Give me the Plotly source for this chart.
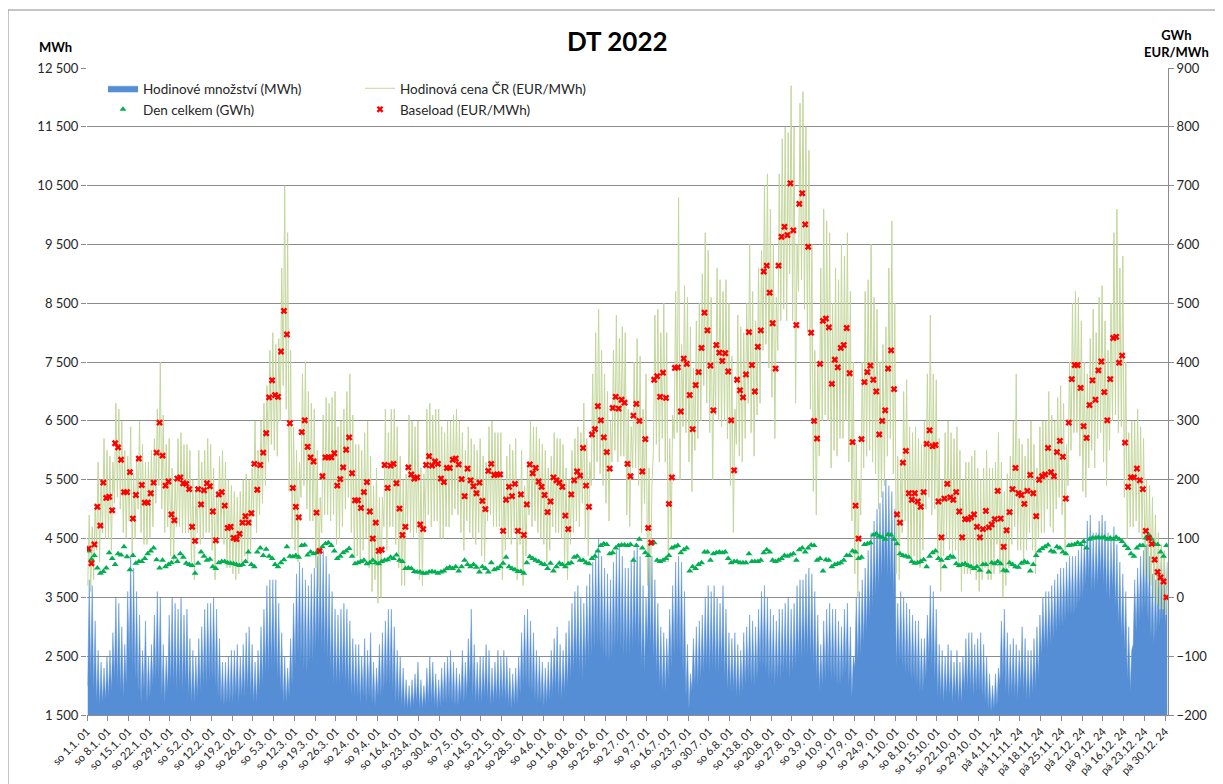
import numpy as np
import plotly.graph_objects as go

# ---------------- data ----------------
week_labels = [
    "so 1.1. 01", "so 8.1. 01", "so 15.1. 01", "so 22.1. 01", "so 29.1. 01", "so 5.2. 01",
    "so 12.2. 01", "so 19.2. 01", "so 26.2. 01", "so 5.3. 01", "so 12.3. 01", "so 19.3. 01",
    "so 26.3. 01", "so 2.4. 01", "so 9.4. 01", "so 16.4. 01", "so 23.4. 01", "so 30.4. 01",
    "so 7.5. 01", "so 14.5. 01", "so 21.5. 01", "so 28.5. 01", "so 4.6. 01", "so 11.6. 01",
    "so 18.6. 01", "so 25.6. 01", "so 2.7. 01", "so 9.7. 01", "so 16.7. 01", "so 23.7. 01",
    "so 30.7. 01", "so 6.8. 01", "so 13.8. 01", "so 20.8. 01", "so 27.8. 01", "so 3.9. 01",
    "so 10.9. 01", "so 17.9. 01", "so 24.9. 01", "so 1.10. 01", "so 8.10. 01", "so 15.10. 01",
    "so 22.10. 01", "so 29.10. 01", "pá 4.11. 24", "pá 11.11. 24", "pá 18.11. 24",
    "pá 25.11. 24", "pá 2.12. 24", "pá 9.12. 24", "pá 16.12. 24", "pá 23.12. 24", "pá 30.12. 24",
]

# Baseload (EUR/MWh), one value per day
baseload = [
    83, 58, 90, 154, 122, 195, 169, 171, 148, 262, 255, 234, 179, 179, 213, 134, 174, 236, 191, 161,
    161, 177, 195, 246, 297, 241, 190, 197, 141, 131, 202, 204, 194, 193, 184, 120, 96, 184, 158, 182,
    194, 189, 146, 97, 175, 179, 156, 118, 120, 101, 99, 108, 127, 138, 127, 143, 227, 183, 225, 246,
    279, 340, 369,
    344, 341, 418, 487, 447, 296, 186, 154, 136, 281, 301, 256, 238, 231, 144, 79, 206, 238, 238, 238,
    245, 190, 201, 221, 251, 272, 211, 165, 165, 152, 179, 196, 146, 100, 127, 79, 81, 225, 186, 224,
    227, 194, 151, 106, 120, 221, 209, 202, 204, 124, 116, 225, 240, 224, 231, 227, 202, 196, 220, 220,
    234, 236, 226, 201, 172, 219, 199, 189, 177, 195, 164, 150, 215, 227, 208, 209, 209, 113, 166, 188,
    172, 193, 113, 175, 106, 158, 226, 211, 220, 197, 188, 174, 145, 163, 204, 199, 195, 188, 139, 116,
    175, 199, 214, 207, 254, 190, 154, 277, 286, 325, 301, 272, 247, 219, 322, 341, 321, 336, 331, 227,
    206, 309,
    329, 300, 214, 269, 118, 93, 370, 376, 341, 382, 339, 159, 204, 390, 391, 316, 406, 397, 344, 286,
    361, 383, 424, 484, 454, 394, 318, 429, 416, 402, 415, 384, 301, 216, 370, 352, 340, 379, 451, 395,
    350, 426, 454, 554, 564, 518, 466, 389, 564, 613, 630, 616, 704, 624, 463, 669, 687, 634, 596, 450,
    300,
    270, 397, 470, 474, 459, 363, 404, 391, 424, 429, 458, 381, 264, 156, 100, 269, 366, 383, 394, 370,
    350, 277, 300, 318, 389, 420, 354, 141, 127, 229, 249, 177, 166, 177, 163, 154, 179, 261, 284, 257,
    259, 163, 102, 168, 193, 170, 166, 179, 146, 102, 133, 133, 136, 141, 120, 102, 116, 147, 119,
    124, 133, 181, 134, 86, 114, 145, 184, 220, 177, 174, 159, 181, 208, 177, 138, 200, 206, 209, 254,
    213, 206, 247, 266, 239, 168, 297, 371, 395, 395, 356, 291, 271, 327, 369, 336, 386, 401, 349, 301,
    371, 441, 443, 399, 411, 263, 188, 204, 204, 219, 199, 184, 113, 101, 91, 64, 43, 34, 27, 0,
]

# Den celkem (GWh), one value per day
den_celkem = [
    79, 65, 71, 50, 41, 44, 50, 76, 66, 56, 74, 72, 86, 69, 47, 71, 58, 61, 61, 66,
    74, 79, 84, 64, 50, 63, 52, 56, 59, 68, 61, 74, 68, 58, 56, 54, 41, 58, 77, 70,
    63, 65, 52, 49, 59, 61, 61, 59, 58, 57, 56, 54, 56, 61, 77, 56, 52, 77, 84, 71,
    82, 70, 66,
    56, 52, 59, 64, 86, 70, 69, 71, 68, 88, 89, 72, 77, 74, 76, 79, 86, 91, 93, 88,
    79, 66, 70, 76, 79, 83, 70, 57, 59, 61, 63, 57, 59, 63, 59, 57, 61, 63, 64, 68,
    66, 72, 63, 61, 49, 50, 49, 44, 43, 43, 41, 41, 43, 44, 43, 41, 43, 45, 49, 51,
    49, 52, 45, 52, 63, 56, 52, 56, 51, 43, 52, 49, 43, 59, 47, 49, 52, 58, 68, 52,
    49, 47, 44, 44, 41, 59, 69, 66, 63, 61, 57, 56, 49, 58, 45, 52, 58, 56, 52, 57,
    59, 68, 70, 63, 63, 59, 57, 66, 70, 79, 88, 91, 90, 74, 76, 84, 88, 89, 89, 88,
    90, 63,
    88, 99, 84, 76, 71, 91, 93, 63, 61, 63, 66, 71, 84, 86, 88, 76, 81, 84, 45, 52,
    49, 56, 59, 77, 77, 63, 74, 76, 77, 76, 77, 66, 59, 61, 61, 59, 59, 59, 74, 61,
    61, 61, 63, 76, 81, 77, 63, 61, 63, 66, 71, 70, 72, 74, 63, 81, 84, 77, 84, 89,
    88,
    63, 66, 45, 64, 63, 52, 56, 57, 59, 63, 71, 71, 79, 77, 66, 68, 90, 91, 93, 106,
    108, 104, 102, 99, 107, 106, 99, 91, 74, 71, 70, 68, 61, 58, 59, 61, 64, 52, 70, 76,
    79, 66, 63, 52, 66, 70, 68, 57, 54, 56, 57, 54, 52, 49, 52, 46, 56, 56, 43,
    59, 57, 61, 57, 46, 45, 59, 56, 52, 51, 58, 61, 59, 45, 56, 71, 79, 83, 86, 89,
    79, 77, 86, 84, 77, 74, 88, 89, 90, 93, 90, 95, 84, 99, 101, 101, 102, 101, 102, 99,
    101, 99, 102, 99, 95, 88, 83, 74, 70, 84, 88, 88, 101, 106, 99, 90, 90, 77, 70, 88,
]

# Hourly quantity (MWh): daily peak-hour and night-hour values
qty_high = [
    3800, 3700, 3100, 2600, 2400, 2300, 2500,  2600, 2900, 3500, 3400, 3000, 2700, 3600,
    4200, 4000, 3600, 3200, 2600, 3100, 2500,  2700, 3200, 3600, 3500, 2700, 2500, 3200,
    3500, 3400, 3300, 3500, 3200, 3300, 2800,  2600, 2500, 2800, 3000, 3300, 3400, 3400,
    3500, 3300, 2800, 2400, 2400, 2500, 2600,  2600, 2700, 2500, 2700, 2900, 3000, 2700,
    2400, 2600, 3000, 3300, 3700, 3800, 3800,  3800, 3400, 2900, 2500, 2300, 2800, 3400,
    3900, 4100, 4000, 3800, 3700, 3900, 4000,  4200, 4300, 4300, 4200, 3900, 3600, 3300,
    3200, 3300, 3400, 3300, 3100, 2800, 2700,  2700, 2500, 2800, 2600, 2900, 2400, 2300,
    2700, 2900, 3100, 3300, 3300, 3000, 2600,  2500, 2300, 2100, 2000, 2100, 2200, 2400,
    2100, 2000, 2300, 2500, 2400, 2200, 2100,  2300, 2400, 2500, 2600, 2400, 2300, 2200,
    2600, 2400, 2800, 3300, 2700, 2400, 2500,  2500, 2700, 2600, 2300, 2400, 2600, 2500,
    2600, 2500, 2300, 2200, 2300, 2500, 2900,  3200, 3300, 3100, 2900, 2600, 2500, 2400,
    2300, 2400, 2600, 2800, 3000, 2700, 2600,  2900, 3100, 3400, 3600, 3700, 3500, 3400,
    3700, 3900, 4100, 4300, 4500, 4200, 4000,  3900, 3800, 4100, 4300, 4400, 4200, 4000,
    4000, 4100, 4300, 4400, 4200, 3700, 3500,  4400, 4200, 3800, 3400, 3000, 2900, 2800,
    3300, 3700, 4100, 4200, 4100, 3600, 2700,  2200, 2800, 3000, 3100, 3200, 3500, 3700,
    3600, 3700, 3500, 3400, 3700, 3300, 2900,  2800, 2900, 2700, 2600, 2900, 3000, 3200,
    3100, 3000, 3300, 3600, 3700, 3500, 3300,  3200, 3100, 3300, 3300, 3400, 3500, 3300,
    3400, 3700, 3800, 3800, 3900, 4000, 3900,  3600, 3200, 2700, 3100, 3300, 3400, 3300,
    3300, 3100, 3000, 3300, 3400, 3000, 2500,  3500, 3600, 3800, 4000, 4300, 4600, 4800,
    5000, 5100, 5300, 5500, 5400, 5300, 5000,  3400, 3600, 3500, 3400, 3300, 3200, 3100,
    3100, 2800, 2800, 3200, 3700, 3600, 3300,  2700, 2600, 2500, 2700, 2600, 2400, 2600,
    2400, 2500, 2800, 2900, 2900, 2700, 2800,  2900, 2700, 2500, 2200, 2000, 2200, 2300,
    3100, 3300, 2900, 2700, 2800, 2700, 2600,  3000, 2800, 2600, 2600, 2800, 3000, 3200,
    3500, 3600, 3600, 3700, 3800, 3900, 4000,  4000, 4100, 4200, 4200, 4200, 4300, 4400,
    4500, 4800, 4900, 4600, 4600, 4800, 4900,  4800, 4600, 4500, 4700, 4400, 4100, 3900,
    3600, 3000, 2600, 3800, 4000, 4200, 4300,  4400, 4200, 3900, 3800, 4000, 4100, 4200,
    4100,
]
qty_low = [
    2000, 2100, 1900, 1700, 1650, 1700, 1750,  1800, 1900, 2100, 2000, 1900, 1800, 2000,
    2400, 2300, 2100, 1900, 1700, 1900, 1700,  1800, 2000, 2100, 2100, 1800, 1700, 1900,
    2000, 2000, 1900, 2000, 1900, 2000, 1800,  1700, 1700, 1800, 1900, 2000, 2000, 2100,
    2100, 2000, 1800, 1700, 1650, 1700, 1700,  1700, 1800, 1700, 1800, 1800, 1900, 1800,
    1700, 1700, 1900, 2000, 2200, 2200, 2300,  2300, 2100, 1900, 1700, 1700, 1800, 2000,
    2300, 2500, 2400, 2300, 2200, 2400, 2400,  2600, 2700, 2600, 2500, 2400, 2200, 2000,
    2000, 2000, 2100, 2000, 1900, 1800, 1800,  1800, 1700, 1800, 1700, 1800, 1700, 1650,
    1800, 1800, 1900, 2000, 2000, 1900, 1700,  1700, 1650, 1600, 1600, 1600, 1650, 1700,
    1600, 1600, 1650, 1700, 1700, 1650, 1600,  1650, 1700, 1700, 1750, 1700, 1650, 1650,
    1750, 1700, 1800, 2000, 1800, 1700, 1700,  1700, 1800, 1750, 1650, 1700, 1750, 1700,
    1750, 1700, 1650, 1600, 1650, 1700, 1850,  2000, 2000, 1900, 1850, 1750, 1700, 1700,
    1650, 1700, 1750, 1850, 1900, 1800, 1750,  1850, 1950, 2100, 2200, 2300, 2200, 2100,
    2300, 2400, 2500, 2600, 2700, 2600, 2500,  2400, 2400, 2500, 2600, 2700, 2600, 2500,
    2500, 2500, 2600, 2700, 2600, 2300, 2200,  2700, 2600, 2400, 2200, 2000, 1900, 1900,
    2100, 2300, 2500, 2600, 2500, 2200, 1800,  1600, 1900, 2000, 2000, 2100, 2200, 2300,
    2200, 2300, 2200, 2200, 2300, 2100, 1900,  1900, 1900, 1800, 1800, 1900, 2000, 2100,
    2000, 2000, 2100, 2300, 2300, 2200, 2100,  2100, 2000, 2100, 2100, 2200, 2200, 2100,
    2200, 2300, 2400, 2400, 2500, 2500, 2400,  2300, 2100, 1900, 2000, 2100, 2200, 2100,
    2100, 2000, 2000, 2100, 2200, 2000, 1800,  2300, 2400, 2500, 2700, 2900, 3100, 3300,
    3500, 3600, 3800, 3900, 3800, 3700, 3500,  2300, 2400, 2300, 2200, 2200, 2100, 2100,
    2000, 1900, 1900, 2100, 2400, 2300, 2100,  1800, 1800, 1700, 1800, 1800, 1700, 1800,
    1700, 1700, 1900, 1900, 1900, 1800, 1900,  1900, 1800, 1700, 1600, 1550, 1600, 1650,
    2000, 2100, 1900, 1800, 1850, 1800, 1750,  1950, 1850, 1750, 1750, 1850, 1950, 2100,
    2500, 2600, 2600, 2700, 2800, 2900, 3000,  3000, 3100, 3200, 3200, 3200, 3300, 3400,
    3500, 3700, 3800, 3600, 3600, 3700, 3800,  3700, 3500, 3400, 3600, 3300, 3000, 2800,
    2600, 2100, 1900, 2700, 2900, 3100, 3200,  3300, 3100, 2800, 2700, 2900, 3000, 3100,
    3000,
]

# Hourly price ČR (EUR/MWh): daily highest and lowest hour
price_high = [
    140, 120, 160, 230, 200, 270, 250, 240, 230, 330, 320, 300, 250, 240, 290, 210, 240, 300, 260, 230,
    230, 250, 270, 320, 400, 310, 260, 270, 220, 200, 270, 280, 260, 260, 250, 200, 180, 250, 230, 250,
    270, 260, 220, 180, 240, 250, 230, 200, 190, 180, 170, 180, 200, 210, 200, 220, 300, 250, 300, 330,
    360, 420, 450,
    430, 440, 560, 700, 620, 420, 290, 250, 230, 380, 400, 350, 330, 320, 250, 170, 310, 340, 330, 340,
    350, 290, 300, 320, 350, 380, 310, 260, 260, 250, 280, 300, 240, 190, 220, 170, 170, 320, 280, 320,
    320, 290, 240, 200, 210, 310, 300, 290, 300, 220, 210, 320, 330, 310, 320, 320, 290, 280, 300, 300,
    310, 320, 300, 280, 250, 290, 270, 260, 250, 270, 240, 230, 290, 300, 280, 280, 280, 200, 240, 260,
    250, 270, 200, 250, 190, 230, 300, 290, 290, 270, 260, 250, 220, 240, 280, 270, 270, 260, 220, 200,
    250, 270, 290, 280, 330, 270, 230, 380, 450, 490, 420, 380, 350, 300, 420, 480, 440, 460, 450, 320,
    290, 400,
    440, 410, 320, 380, 220, 190, 480, 490, 450, 500, 450, 270, 310, 520, 680, 430, 530, 510, 460, 390,
    470, 500, 550, 620, 590, 510, 430, 560, 540, 520, 540, 500, 410, 320, 480, 460, 450, 500, 600, 520,
    470, 560, 590, 700, 720, 660, 600, 510, 720, 780, 800, 790, 870, 800, 600, 840, 860, 800, 760, 600,
    420,
    400, 560, 660, 640, 620, 500, 560, 540, 600, 580, 620, 520, 400, 260, 200, 400, 520, 540, 600, 510,
    490, 400, 430, 460, 560, 640, 500, 240, 230, 350, 370, 290, 280, 290, 270, 260, 300, 380, 480, 380,
    370, 270, 200, 280, 300, 280, 270, 290, 250, 200, 230, 230, 240, 250, 220, 200, 220, 250, 220,
    220, 230, 280, 230, 180, 210, 240, 300, 380, 270, 260, 240, 270, 300, 260, 220, 290, 300, 300, 350,
    310, 300, 340, 360, 330, 260, 400, 500, 520, 510, 470, 400, 380, 440, 490, 450, 510, 530, 470, 420,
    500, 620, 660, 560, 580, 400, 280, 300, 300, 320, 290, 270, 200, 190, 170, 140, 110, 90, 80, 50,
]
price_low = [
    20, 10, 30, 80, 60, 110, 100, 100, 80, 160, 170, 150, 110, 100, 130, 70, 100, 150, 110, 90,
    90, 100, 120, 160, 190, 150, 110, 120, 70, 60, 120, 120, 110, 110, 110, 60, 30, 110, 90, 100,
    110, 110, 80, 30, 100, 100, 90, 50, 50, 40, 30, 40, 60, 70, 60, 80, 140, 110, 140, 160,
    190, 230, 260,
    250, 240, 300, 360, 320, 180, 100, 80, 60, 170, 190, 150, 130, 130, 50, 10, 110, 140, 140, 130,
    140, 90, 100, 120, 150, 170, 110, 70, 70, 60, 80, 100, 50, 10, 30, -10, 0, 120, 80, 120,
    120, 90, 50, 20, 20, 120, 110, 100, 110, 30, 20, 120, 140, 120, 130, 130, 100, 100, 120, 120,
    140, 150, 140, 110, 80, 130, 110, 100, 90, 110, 70, 60, 130, 140, 120, 120, 120, 30, 80, 100,
    90, 110, 30, 90, 20, 70, 140, 120, 130, 110, 100, 90, 60, 80, 120, 110, 110, 100, 50, 30,
    90, 110, 130, 120, 160, 100, 70, 190, 200, 230, 210, 190, 160, 130, 230, 250, 230, 240, 240, 140,
    120, 220,
    220, 190, 110, 160, 20, 0, 250, 260, 230, 270, 230, 60, 100, 270, 280, 200, 290, 280, 230, 180,
    250, 270, 300, 360, 330, 280, 200, 310, 300, 290, 300, 270, 190, 110, 260, 240, 230, 270, 330, 280,
    240, 310, 330, 420, 430, 390, 340, 270, 420, 470, 490, 470, 550, 470, 330, 520, 540, 490, 450, 320,
    180,
    140, 240, 300, 310, 300, 220, 250, 240, 270, 270, 300, 230, 130, 40, 0, 140, 220, 240, 250, 230,
    210, 150, 170, 190, 240, 270, 210, 40, 30, 110, 130, 70, 60, 70, 60, 50, 80, 150, 170, 140,
    150, 70, 10, 70, 100, 80, 70, 80, 50, 10, 40, 40, 40, 50, 30, 10, 30, 50, 30,
    30, 40, 90, 40, 0, 20, 50, 90, 120, 80, 80, 60, 80, 110, 80, 40, 100, 110, 110, 150,
    120, 110, 150, 170, 140, 80, 190, 250, 280, 280, 240, 180, 170, 220, 250, 220, 270, 280, 230, 190,
    250, 300, 310, 280, 290, 170, 100, 120, 120, 130, 110, 100, 40, 30, 20, 0, -10, -20, -20, -30,
]

left_ticks = [1500, 2500, 3500, 4500, 5500, 6500, 7500, 8500, 9500, 10500, 11500, 12500]
left_tick_text = ["1 500", "2 500", "3 500", "4 500", "5 500", "6 500", "7 500", "8 500",
                  "9 500", "10 500", "11 500", "12 500"]

# ---------------- layout helpers ----------------
n = min(len(baseload), len(den_celkem), len(qty_high), len(qty_low), len(price_high), len(price_low))
day = np.arange(n)
hour_x = np.ravel(np.column_stack([day * 24 + 6, day * 24 + 18]))
qty = np.ravel(np.column_stack([qty_low[:n], qty_high[:n]]))
price = np.ravel(np.column_stack([price_low[:n], price_high[:n]]))
day_x = day * 24 + 12
tick_pos = [k * 168 for k in range(len(week_labels))]

FONT = "Lato, 'Open Sans', sans-serif"
GRID = "#8c8c8c"
BODY = 8                      # default page margin of the html body
FIG_W, FIG_H = 1223 - BODY, 784 - BODY
# plot area in page pixels: left 87, right 1168, top 68, bottom 715
PL, PR, PT, PB = 87 - BODY, 1168 - BODY, 68 - BODY, 715 - BODY
PW, PH = PR - PL, PB - PT


def px_x(x):
    """page x pixel -> paper coordinate"""
    return (x - BODY - PL) / PW


def px_y(y):
    """page y pixel -> paper coordinate"""
    return (PB - (y - BODY)) / PH


fig = go.Figure()
fig.add_trace(go.Scatter(
    x=hour_x, y=qty, mode="lines", name="Hodinové množství (MWh)",
    line=dict(color="#558ed5", width=0.5), fill="tozeroy", fillcolor="#558ed5",
    legend="legend",
))
fig.add_trace(go.Scatter(
    x=hour_x, y=price, mode="lines", name="Hodinová cena ČR (EUR/MWh)",
    line=dict(color="#c3d69b", width=1), yaxis="y2", legend="legend",
))
fig.add_trace(go.Scatter(
    x=day_x, y=den_celkem[:n], mode="markers", name="Den celkem (GWh)",
    marker=dict(symbol="triangle-up", size=6, color="#00b050"), yaxis="y2", legend="legend2",
))
fig.add_trace(go.Scatter(
    x=day_x, y=baseload[:n], mode="markers", name="Baseload (EUR/MWh)",
    marker=dict(symbol="x", size=6, color="#ff0000"), yaxis="y2", legend="legend2",
))

legend_common = dict(
    orientation="h", xanchor="left", yanchor="top", bgcolor="rgba(0,0,0,0)",
    font=dict(family=FONT, size=13.5, color="#262626"), entrywidthmode="pixels", entrywidth=212,
    itemclick=False,
)

fig.update_layout(
    width=FIG_W, height=FIG_H,
    margin=dict(l=PL, r=FIG_W - PR, t=PT, b=FIG_H - PB, autoexpand=False),
    paper_bgcolor="white", plot_bgcolor="white",
    font=dict(family=FONT, color="#262626"),
    showlegend=True,
    legend=dict(x=px_x(103), y=px_y(73), **legend_common),
    legend2=dict(x=px_x(103), y=px_y(94), **legend_common),
    xaxis=dict(
        range=[0, 24 * n], tickmode="array", tickvals=tick_pos, ticktext=week_labels,
        tickangle=-45, ticks="outside", ticklen=5, tickcolor=GRID, automargin=False,
        tickfont=dict(family=FONT, size=11, color="#262626"),
        showgrid=False, zeroline=False, showline=True, linecolor=GRID,
    ),
    yaxis=dict(
        range=[1500, 12500], tickmode="array", tickvals=left_ticks, ticktext=left_tick_text,
        showgrid=True, gridcolor=GRID, gridwidth=1, zeroline=False, automargin=False,
        ticks="outside", ticklen=5, tickcolor=GRID,
        tickfont=dict(family=FONT, size=13, color="#262626"),
    ),
    yaxis2=dict(
        range=[-200, 900], overlaying="y", side="right", tick0=0, dtick=100,
        showgrid=False, zeroline=False, showline=True, linecolor=GRID, automargin=False,
        ticks="outside", ticklen=5, tickcolor=GRID,
        tickfont=dict(family=FONT, size=13, color="#262626"),
    ),
)

fig.add_annotation(text="<b>DT 2022</b>", xref="paper", yref="paper",
                   x=px_x(617), y=px_y(41), xanchor="center", yanchor="middle",
                   showarrow=False, font=dict(family=FONT, size=26, color="#000000"))
fig.add_annotation(text="<b>MWh</b>", xref="paper", yref="paper",
                   x=px_x(55), y=px_y(47), xanchor="center", yanchor="middle",
                   showarrow=False, font=dict(family=FONT, size=13, color="#000000"))
fig.add_annotation(text="<b>GWh</b><br><b>EUR/MWh</b>", xref="paper", yref="paper",
                   x=px_x(1176), y=px_y(44), xanchor="center", yanchor="middle",
                   showarrow=False, align="center",
                   font=dict(family=FONT, size=13, color="#000000"))
# chart-area frame
fig.add_shape(type="rect", xref="paper", yref="paper",
              x0=px_x(8), x1=px_x(1232), y0=px_y(795), y1=px_y(10),
              line=dict(color=GRID, width=1), fillcolor="rgba(0,0,0,0)", layer="below")

fig.write_html("out.html")
